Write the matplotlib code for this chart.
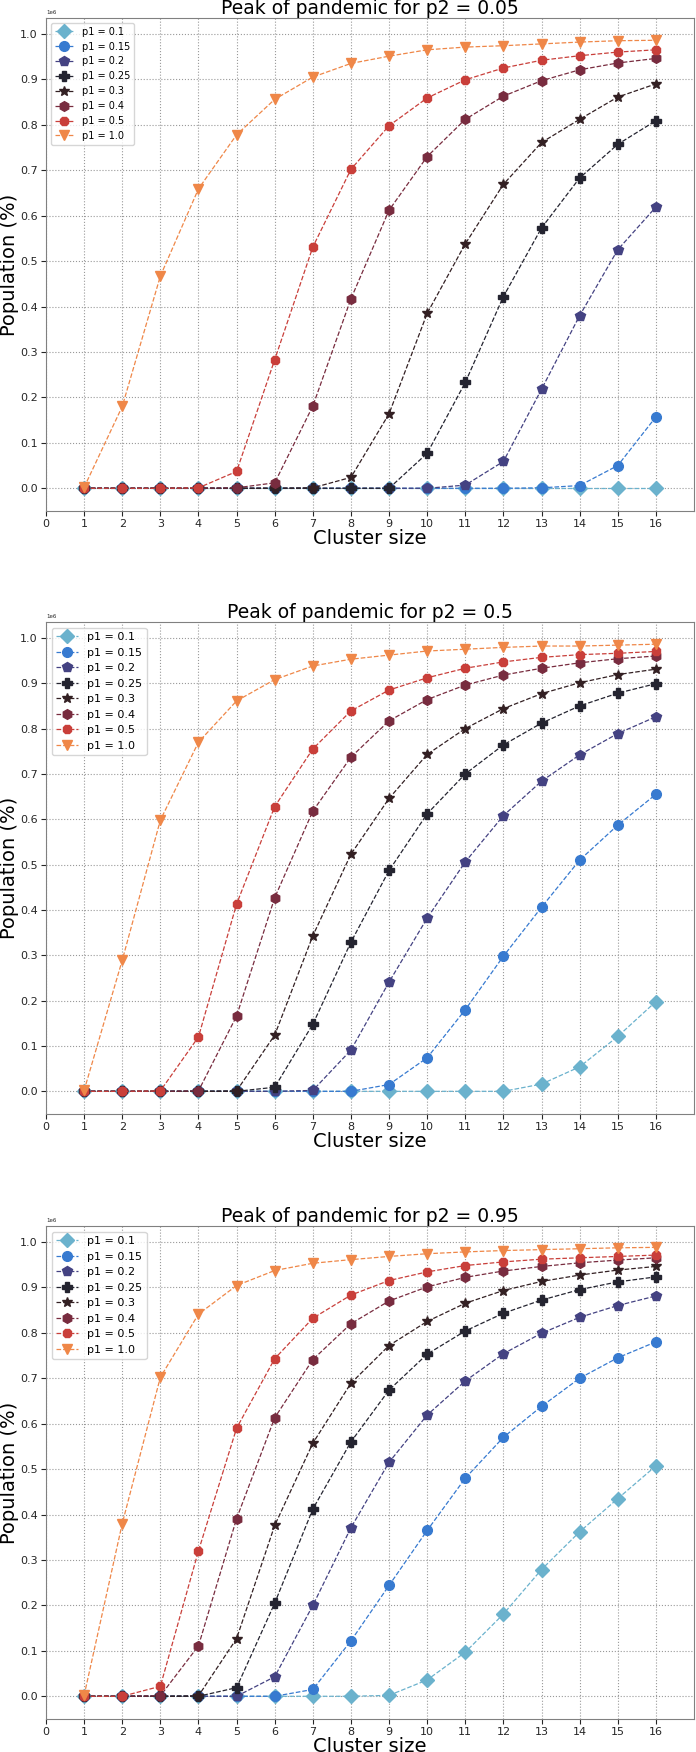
import matplotlib
matplotlib.use("Agg")
import matplotlib.pyplot as plt
import numpy as np
import seaborn as sns

# cluster sizes and population (values are shares of 1e6 people)
cluster = np.arange(1, 17)
population = 1e6
p1_labels = ["p1 = 0.1", "p1 = 0.15", "p1 = 0.2", "p1 = 0.25",
             "p1 = 0.3", "p1 = 0.4", "p1 = 0.5", "p1 = 1.0"]
p2_values = ["0.05", "0.5", "0.95"]

# p2 = 0.05
peak_005 = [
    [0, 0, 0, 0, 0, 0, 0, 0, 0, 0, 0, 0, 0, 0, 0, 0],
    [0, 0, 0, 0, 0, 0, 0, 0, 0, 0, 0, 0, 0.001, 0.006, 0.050, 0.157],
    [0, 0, 0, 0, 0, 0, 0, 0, 0, 0, 0.007, 0.059, 0.218, 0.380, 0.525, 0.619],
    [0, 0, 0, 0, 0, 0, 0, 0, 0, 0.077, 0.233, 0.422, 0.573, 0.683, 0.757, 0.809],
    [0, 0, 0, 0, 0, 0, 0.001, 0.024, 0.164, 0.385, 0.538, 0.669, 0.761, 0.812, 0.861, 0.890],
    [0, 0, 0, 0, 0.001, 0.012, 0.181, 0.417, 0.612, 0.730, 0.812, 0.863, 0.897, 0.921, 0.936, 0.946],
    [0, 0, 0, 0.001, 0.037, 0.283, 0.531, 0.702, 0.798, 0.859, 0.899, 0.925, 0.942, 0.952, 0.960, 0.965],
    [0.002, 0.180, 0.467, 0.659, 0.778, 0.856, 0.905, 0.935, 0.951, 0.965, 0.971, 0.974, 0.978, 0.982, 0.985, 0.986],
]

# p2 = 0.5
peak_05 = [
    [0, 0, 0, 0, 0, 0, 0, 0, 0, 0, 0, 0, 0.016, 0.054, 0.121, 0.198],
    [0, 0, 0, 0, 0, 0, 0, 0, 0.015, 0.074, 0.180, 0.298, 0.406, 0.510, 0.587, 0.655],
    [0, 0, 0, 0, 0, 0, 0.002, 0.091, 0.241, 0.382, 0.506, 0.608, 0.684, 0.742, 0.789, 0.826],
    [0, 0, 0, 0, 0, 0.009, 0.148, 0.329, 0.487, 0.612, 0.700, 0.764, 0.812, 0.850, 0.878, 0.899],
    [0, 0, 0, 0, 0.001, 0.124, 0.343, 0.523, 0.646, 0.743, 0.800, 0.844, 0.877, 0.901, 0.919, 0.931],
    [0, 0, 0, 0.001, 0.166, 0.427, 0.618, 0.737, 0.817, 0.864, 0.896, 0.918, 0.933, 0.945, 0.954, 0.960],
    [0, 0, 0.001, 0.120, 0.413, 0.628, 0.755, 0.839, 0.885, 0.912, 0.933, 0.947, 0.957, 0.963, 0.966, 0.970],
    [0.002, 0.289, 0.598, 0.770, 0.861, 0.908, 0.938, 0.953, 0.962, 0.971, 0.975, 0.979, 0.982, 0.982, 0.984, 0.986],
]

# p2 = 0.95
peak_095 = [
    [0, 0, 0, 0, 0, 0, 0, 0, 0.002, 0.036, 0.097, 0.181, 0.279, 0.362, 0.435, 0.507],
    [0, 0, 0, 0, 0, 0, 0.015, 0.122, 0.244, 0.365, 0.480, 0.570, 0.638, 0.700, 0.745, 0.780],
    [0, 0, 0, 0, 0, 0.043, 0.200, 0.371, 0.515, 0.619, 0.694, 0.754, 0.799, 0.834, 0.860, 0.881],
    [0, 0, 0, 0, 0.019, 0.205, 0.412, 0.560, 0.674, 0.753, 0.804, 0.843, 0.872, 0.895, 0.912, 0.923],
    [0, 0, 0, 0.001, 0.127, 0.376, 0.557, 0.689, 0.772, 0.825, 0.865, 0.893, 0.913, 0.927, 0.938, 0.946],
    [0, 0, 0.001, 0.111, 0.391, 0.613, 0.741, 0.820, 0.870, 0.901, 0.922, 0.936, 0.946, 0.954, 0.960, 0.965],
    [0, 0, 0.022, 0.320, 0.590, 0.743, 0.832, 0.883, 0.915, 0.934, 0.948, 0.956, 0.962, 0.965, 0.968, 0.971],
    [0.002, 0.380, 0.702, 0.841, 0.904, 0.937, 0.953, 0.961, 0.968, 0.974, 0.978, 0.981, 0.983, 0.985, 0.987, 0.988],
]

markers = ["D", "o", "p", "P", "*", "h", "8", "v"]
colors = sns.color_palette("icefire", 8)

W, H = 696, 1752
fig = plt.figure(figsize=(W / 100, H / 100), dpi=100)

# axes boxes in pixels: (top, bottom)
boxes = [(18, 511), (622, 1114), (1226, 1719)]
legend_sizes = [7, 8, 8]
left, right = 46, 694

for peaks, p2, (top, bot), lfs in zip([peak_005, peak_05, peak_095], p2_values,
                                      boxes, legend_sizes):
    ax = fig.add_axes([left / W, 1 - bot / H, (right - left) / W, (bot - top) / H])
    for i, series in enumerate(peaks):
        ax.plot(cluster, np.array(series) * population, "--",
                marker=markers[i], color=colors[i], linewidth=0.9,
                markersize=7, label=p1_labels[i])
    ax.set_xlim(0, 17)
    ax.set_xticks(range(0, 17))
    ax.set_ylim(-0.05e6, 1.035e6)
    ax.set_yticks(np.arange(0, 1.01, 0.1) * 1e6)
    ax.grid(True, linestyle=":", color="0.6", linewidth=0.8)
    ax.tick_params(axis="both", labelsize=8, colors="0.15", pad=2.5)
    ax.yaxis.get_offset_text().set_fontsize(4)
    for s in ax.spines.values():
        s.set_edgecolor("0.5")
    ax.set_title(f"Peak of pandemic for p2 = {p2}", fontsize=13.5, pad=1)
    ax.set_xlabel("Cluster size", fontsize=14, labelpad=0)
    ax.set_ylabel("Population (%)", fontsize=14, labelpad=1)
    ax.legend(loc="upper left", fontsize=lfs)

fig.savefig("out.png", dpi=100)
